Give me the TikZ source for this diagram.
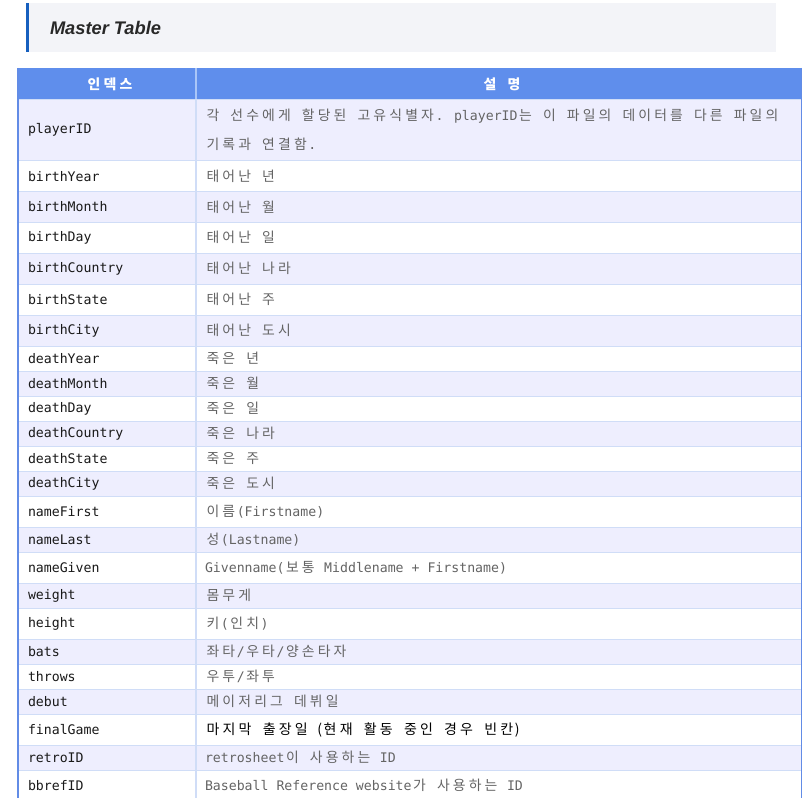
\documentclass[tikz,border=0pt]{standalone}
\usepackage{fontspec}
\setmainfont{DejaVu Sans Mono}
\newfontfamily\krfont[Scale=1.05]{Noto Sans CJK KR}
\newfontfamily\titlefont{Liberation Sans}
\let\krend\relax
\def\krstep#1{\ifx\krend#1\else\makebox[1.147em]{#1}\expandafter\krstep\fi}
\newcommand\kr[1]{{\krfont\krstep#1\krend}}
\definecolor{headerblue}{RGB}{95, 142, 236}
\definecolor{edgeblue}{RGB}{98, 140, 230}
\definecolor{rowlavender}{RGB}{238, 238, 254}
\definecolor{gridblue}{RGB}{208, 221, 247}
\definecolor{headrule}{RGB}{170, 198, 248}
\definecolor{titlegray}{RGB}{243, 244, 248}
\definecolor{titlebar}{RGB}{22, 95, 190}
\definecolor{desctext}{RGB}{100, 100, 100}
\definecolor{idtext}{RGB}{25, 25, 25}
\definecolor{titletext}{RGB}{40, 40, 40}

\begin{document}
\begin{tikzpicture}[
        x=0.75pt,
        y=-0.75pt,
        every node/.style={inner sep=0pt, outer sep=0pt},
        titlelabel/.style={
            anchor=west,
            text=titletext,
            font=\titlefont\bfseries\itshape\fontsize{13.7}{16}\selectfont
        },
        headlabel/.style={
            text=white,
            font=\bfseries\fontsize{9.9}{12}\selectfont
        },
        indexlabel/.style={
            anchor=west,
            text=idtext,
            font=\fontsize{9.9}{12}\selectfont
        },
        desclabel/.style={
            anchor=west,
            align=left,
            text=desctext,
            font=\fontsize{9.9}{12}\selectfont
        },
        gridline/.style={draw=gridblue, line width=0.9pt},
        edgeline/.style={draw=edgeblue, line width=1.3pt}
    ]

    \useasboundingbox[fill=white] (0,0) rectangle (806,798);
    \clip (0,0) rectangle (806,798);

    \fill[titlegray] (26,3) rectangle (776,52);
    \fill[titlebar] (26,3) rectangle (29,52);
    \node[titlelabel] (title) at (50,27.5) {Master Table};

    \fill[headerblue] (18,68) rectangle (802,99.3);
    \draw[headrule, line width=1pt] (196,68) -- (196,99.3);
    \node[headlabel] (headindex) at (110,84) {\kr{인덱스}};
    \node[headlabel] (headdesc) at (502,84) {\kr{설} \kr{명}};

    \foreach \idx/\ytop/\high/\rowfill/\desc [count=\n] in {
        playerID/99.3/61.4/rowlavender/{\kr{각} \kr{선수에게} \kr{할당된} \kr{고유식별자}. playerID\kr{는} \kr{이} \kr{파일의} \kr{데이터를} \kr{다른} \kr{파일의}\\[9.75pt]\kr{기록과} \kr{연결함}.},
        birthYear/160.7/31/white/{\kr{태어난} \kr{년}},
        birthMonth/191.7/30.6/rowlavender/{\kr{태어난} \kr{월}},
        birthDay/222.3/31/white/{\kr{태어난} \kr{일}},
        birthCountry/253.3/31/rowlavender/{\kr{태어난} \kr{나라}},
        birthState/284.3/31/white/{\kr{태어난} \kr{주}},
        birthCity/315.3/31/rowlavender/{\kr{태어난} \kr{도시}},
        deathYear/346.3/25/white/{\kr{죽은} \kr{년}},
        deathMonth/371.3/25/rowlavender/{\kr{죽은} \kr{월}},
        deathDay/396.3/25/white/{\kr{죽은} \kr{일}},
        deathCountry/421.3/25/rowlavender/{\kr{죽은} \kr{나라}},
        deathState/446.3/25/white/{\kr{죽은} \kr{주}},
        deathCity/471.3/25/rowlavender/{\kr{죽은} \kr{도시}},
        nameFirst/496.3/31/white/{\kr{이름}(Firstname)},
        nameLast/527.3/25/rowlavender/{\kr{성}(Lastname)},
        nameGiven/552.3/31/white/{Givenname(\kr{보통} Middlename + Firstname)},
        weight/583.3/25/rowlavender/{\kr{몸무게}},
        height/608.3/31/white/{\kr{키}(\kr{인치})},
        bats/639.3/25/rowlavender/{\kr{좌타}/\kr{우타}/\kr{양손타자}},
        throws/664.3/25/white/{\kr{우투}/\kr{좌투}},
        debut/689.3/25/rowlavender/{\kr{메이저리그} \kr{데뷔일}},
        finalGame/714.3/31/white/{\color{black}\fontsize{10}{12}\selectfont\kr{마지막} \kr{출장일} {\krfont(}\kr{현재} \kr{활동} \kr{중인} \kr{경우} \kr{빈칸}{\krfont)}},
        retroID/745.3/25/rowlavender/{retrosheet\kr{이} \kr{사용하는} ID},
        bbrefID/770.3/31/white/{Baseball Reference website\kr{가} \kr{사용하는} ID}
    } {
        \fill[\rowfill] (18,\ytop) rectangle (802,{\ytop+\high});
        \draw[gridline] (18,\ytop) -- (802,\ytop);
        \node[indexlabel] (index\n) at (28,{\ytop+\high/2}) {\idx};
        \node[desclabel] (desc\n) at (205,{\ytop+\high/2}) {\desc};
    }

    \draw[gridline] (196,99.3) -- (196,801.3);
    \draw[edgeline] (18,68) -- (18,801.3);
    \draw[edgeline] (801.5,68) -- (801.5,801.3);
\end{tikzpicture}
\end{document}
